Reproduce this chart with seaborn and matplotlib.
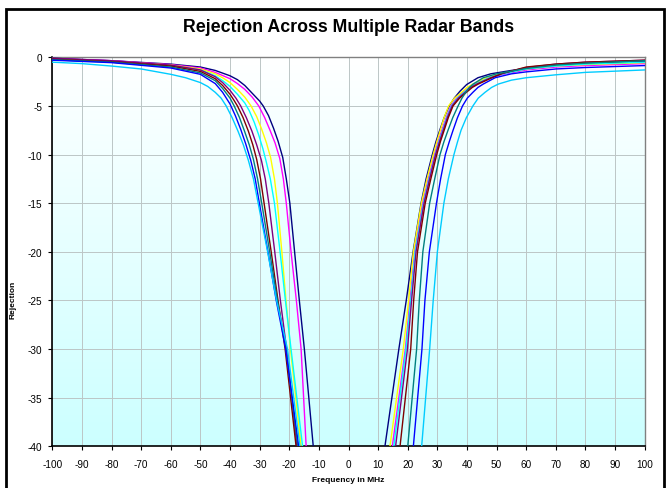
import numpy as np
import pandas as pd
import matplotlib
matplotlib.use("Agg")
import matplotlib.pyplot as plt
import seaborn as sns
from matplotlib.patches import Rectangle

# ---------------- data ----------------
band_names = ["Band 1", "Band 2", "Band 3", "Band 4", "Band 5",
              "Band 6", "Band 7", "Band 8", "Band 9"]
band_colors = ["#000080", "#FF00FF", "#FFFF00", "#00FFFF", "#800080",
               "#800000", "#008080", "#0000FF", "#00CCFF"]

b1_freq = [-100, -80, -60, -50, -45, -40, -37.5, -35, -32.5, -30, -28.8, -27, -25.3, -23.8, -22.2, -21, -19.8, -18.2, -16.6, -14.9, -11.9,
           12.3, 17.0, 19.5, 21.8, 24.5, 26.2, 28.3, 29.5, 30.8, 32.3, 34.0, 35.7, 37.6, 39.9, 43.7, 48, 55, 60, 70, 80, 100]
b1_rej = [-0.1, -0.35, -0.7, -1.0, -1.35, -1.9, -2.3, -2.9, -3.7, -4.5, -5.0, -6.0, -7.3, -8.6, -10.3, -12.5, -15, -20, -25, -30, -40,
          -40, -30, -25, -20, -15, -12.5, -10, -8.7, -7.5, -6.2, -5.0, -4.2, -3.5, -2.8, -2.1, -1.7, -1.35, -1.15, -0.85, -0.65, -0.45]

b2_freq = [-100, -80, -60, -50, -45, -40, -37.5, -35, -32.5, -30.3, -28.3, -26.5, -24.8, -23.2, -22, -21.0, -19.4, -17.6, -16.0, -14.3,
           14.8, 19.2, 20.8, 22.3, 25.0, 26.9, 29.0, 30.2, 31.5, 33.0, 34.6, 36.5, 38.6, 40.6, 42.8, 47.5, 52, 60, 70, 80, 100]
b2_rej = [-0.15, -0.35, -0.75, -1.1, -1.55, -2.2, -2.7, -3.3, -4.1, -5, -6.2, -7.5, -8.8, -10.4, -12.5, -15, -20, -25, -30, -40,
          -40, -30, -25, -20, -15, -12.5, -10, -8.7, -7.5, -6.2, -5, -4.2, -3.6, -3.1, -2.75, -2.1, -1.75, -1.3, -1.0, -0.85, -0.65]

b3_freq = [-100, -80, -60, -50, -45, -42.5, -40, -37.5, -35, -32.9, -31, -29.3, -27.7, -26.3, -25.0, -24.0, -22.5, -21.1, -19.6, -16.0,
           14.0, 18.5, 20.3, 21.9, 24.6, 26.5, 28.6, 29.8, 31.0, 32.3, 33.8, 35.8, 38.2, 40.0, 42.0, 46.5, 51, 60, 70, 80, 100]
b3_rej = [-0.2, -0.4, -0.8, -1.2, -1.7, -2.1, -2.6, -3.3, -4.1, -5, -6.1, -7.4, -8.8, -10.3, -12.5, -15, -20, -25, -30, -40,
          -40, -30, -25, -20, -15, -12.5, -10, -8.7, -7.5, -6.2, -5, -4.2, -3.6, -3.1, -2.75, -2.1, -1.7, -1.2, -0.9, -0.75, -0.55]

b4_freq = [-100, -80, -60, -50, -45, -42.5, -40, -37.5, -35, -33.5, -31.8, -30.3, -28.9, -27.8, -26.4, -25.0, -23.1, -21.3, -19.4, -15.5,
           15.3, 19.4, 21.0, 22.5, 25.3, 27.2, 29.3, 30.5, 31.8, 33.2, 34.8, 36.8, 39.0, 41.0, 43.0, 47.5, 52, 60, 70, 80, 100]
b4_rej = [-0.25, -0.45, -0.85, -1.3, -1.9, -2.4, -3.0, -3.8, -4.7, -5.5, -6.7, -8.0, -9.4, -10.7, -12.5, -15, -20, -25, -30, -40,
          -40, -30, -25, -20, -15, -12.5, -10, -8.7, -7.5, -6.2, -5, -4.2, -3.6, -3.1, -2.75, -2.1, -1.7, -1.2, -0.9, -0.7, -0.5]

b5_freq = [-100, -80, -60, -50, -45, -42.5, -40, -38, -36.4, -34.5, -32.6, -31, -29.4, -28.1, -26.9, -24.9, -23.0, -20.9, -17.4,
           15.9, 19.9, 21.3, 22.8, 25.5, 27.4, 29.4, 30.7, 32.0, 33.4, 35.0, 37.1, 39.4, 41.3, 43.3, 48, 52, 60, 70, 80, 100]
b5_rej = [-0.1, -0.35, -0.8, -1.3, -2.0, -2.6, -3.4, -4.2, -5, -6.2, -7.6, -9.0, -10.6, -12.5, -15, -20, -25, -30, -40,
          -40, -30, -25, -20, -15, -12.5, -10, -8.7, -7.5, -6.2, -5, -4.2, -3.6, -3.1, -2.75, -2.1, -1.65, -1.05, -0.7, -0.5, -0.3]

b6_freq = [-100, -80, -60, -50, -45, -42.5, -40, -38.7, -37.5, -35.6, -33.8, -32.3, -31.0, -29.7, -28.5, -26.1, -23.8, -21.4, -17.7,
           17.4, 21.0, 22.0, 23.3, 25.9, 27.8, 29.8, 31.0, 32.3, 33.7, 35.3, 37.5, 39.8, 41.8, 43.8, 48.5, 52, 60, 70, 80, 100]
b6_rej = [-0.2, -0.45, -0.9, -1.45, -2.2, -2.9, -3.8, -4.4, -5, -6.2, -7.6, -9.0, -10.5, -12.5, -15, -20, -25, -30, -40,
          -40, -30, -25, -20, -15, -12.5, -10, -8.7, -7.5, -6.2, -5, -4.2, -3.6, -3.1, -2.75, -2.1, -1.65, -1.0, -0.7, -0.5, -0.3]

b7_freq = [-100, -80, -60, -50, -45, -42.5, -40, -38.6, -36.8, -35.1, -33.5, -32.1, -30.7, -29.3, -26.6, -24.0, -21.1, -17.1,
           20.0, 23.0, 23.9, 25.1, 27.4, 29.1, 30.9, 32.2, 33.6, 35.2, 37.0, 38.3, 39.6, 40.8, 42.1, 45.5, 50, 60, 70, 80, 100]
b7_rej = [-0.25, -0.5, -1.0, -1.6, -2.4, -3.2, -4.2, -5, -6.2, -7.6, -9.0, -10.5, -12.5, -15, -20, -25, -30, -40,
          -40, -30, -25, -20, -15, -12.5, -10, -8.7, -7.5, -6.2, -5, -4.2, -3.6, -3.1, -2.75, -2.1, -1.7, -1.15, -0.8, -0.6, -0.35]

b8_freq = [-100, -80, -60, -50, -45, -42.5, -40, -38.2, -36.4, -34.7, -33.0, -31.5, -30.1, -27.2, -24.4, -21.2, -16.8,
           21.9, 24.8, 25.8, 27.3, 29.7, 31.1, 32.7, 34.0, 35.3, 36.8, 38.5, 40.1, 42.0, 43.7, 45.5, 49.5, 55, 60, 70, 80, 100]
b8_rej = [-0.3, -0.55, -1.1, -1.75, -2.7, -3.6, -4.8, -6.0, -7.4, -8.9, -10.6, -12.5, -15, -20, -25, -30, -40,
          -40, -30, -25, -20, -15, -12.5, -10, -8.7, -7.5, -6.2, -5, -4.2, -3.6, -3.1, -2.75, -2.1, -1.7, -1.5, -1.2, -1.05, -0.85]

b9_freq = [-100, -90, -80, -70, -60, -55, -50, -47.5, -45, -43, -41.3, -39.3, -37.3, -35.5, -33.8, -32.1, -30.5, -27.3, -24.3, -20.6, -16.4,
           24.7, 27.4, 28.6, 30.0, 32.2, 33.7, 35.6, 36.8, 38.0, 39.8, 42.0, 43.8, 46.1, 48.3, 50.6, 55, 60, 70, 80, 100]
b9_rej = [-0.5, -0.65, -0.9, -1.2, -1.75, -2.1, -2.6, -3.0, -3.6, -4.2, -5, -6.2, -7.6, -9.0, -10.6, -12.5, -15, -20, -25, -30, -40,
          -40, -30, -25, -20, -15, -12.5, -10, -8.7, -7.5, -6.2, -5, -4.2, -3.6, -3.1, -2.75, -2.35, -2.1, -1.8, -1.55, -1.3]

x_ticks = list(range(-100, 101, 10))
y_ticks = list(range(-40, 1, 5))

title_text = "Rejection Across Multiple Radar Bands"
x_label = "Frequency in MHz"
y_label = "Rejection"

# ---------------- build long table ----------------
all_freq = [b1_freq, b2_freq, b3_freq, b4_freq, b5_freq, b6_freq, b7_freq, b8_freq, b9_freq]
all_rej = [b1_rej, b2_rej, b3_rej, b4_rej, b5_rej, b6_rej, b7_rej, b8_rej, b9_rej]
rows = []
for name, fr, rj in zip(band_names, all_freq, all_rej):
    for f, r in zip(fr, rj):
        rows.append({"band": name, "freq": f, "rej": r, "side": "L" if f < 0 else "R"})
df = pd.DataFrame(rows)

# ---------------- figure ----------------
W, H = 667, 489
plt.rcParams["font.family"] = ["Liberation Sans", "DejaVu Sans"]
plt.rcParams["axes.unicode_minus"] = False
fig = plt.figure(figsize=(W / 100, H / 100), dpi=100)

L, R, T, B = 52.3, 644.7, 58.3, 447.3
ax = fig.add_axes([L / W, 1 - B / H, (R - L) / W, (B - T) / H])

# gradient background
grad = np.linspace(0, 1, 256).reshape(-1, 1)
top_c = np.array([1.0, 1.0, 1.0])
bot_c = np.array([204, 255, 255]) / 255.0
img = top_c[None, None, :] * (1 - grad[:, :, None]) + bot_c[None, None, :] * grad[:, :, None]
ax.imshow(img, extent=[-100, 100, -40, 0], aspect="auto", origin="upper", zorder=0)

ax.set_xticks(x_ticks)
ax.set_yticks(y_ticks)
ax.grid(True, color="#bcc6c6", linewidth=0.7, zorder=1)
ax.set_axisbelow(True)

sns.lineplot(data=df, x="freq", y="rej", hue="band", units="side", estimator=None,
             sort=False, palette=band_colors, hue_order=band_names, legend=False,
             linewidth=1.0, ax=ax, zorder=3)

ax.set_xlim(-100, 100)
ax.set_ylim(-40, 0)
ax.set_xlabel("")
ax.set_ylabel("")

ax.tick_params(axis="x", direction="out", length=3, width=0.8, pad=6, labelsize=7.2, colors="black")
ax.tick_params(axis="y", direction="out", length=3, width=0.8, pad=4, labelsize=7.2, colors="black")
for s in ["left", "bottom"]:
    ax.spines[s].set_color("black")
    ax.spines[s].set_linewidth(1.2)
for s in ["top", "right"]:
    ax.spines[s].set_color("#808080")
    ax.spines[s].set_linewidth(1.0)

fig.text((L + R) / 2 / W, 1 - 27 / H, title_text, ha="center", va="center",
         fontsize=12.8, fontweight="bold")
fig.text((L + R) / 2 / W, 1 - 481 / H, x_label, ha="center", va="center",
         fontsize=6, fontweight="bold")
fig.text(13 / W, 1 - 300 / H, y_label, ha="center", va="center", rotation=90,
         fontsize=6, fontweight="bold")

# outer chart frame
fig.patches.append(Rectangle((5.5 / W, -0.05), (663.5 - 5.5) / W, 1.05 - 10 / H,
                             transform=fig.transFigure, fill=False, edgecolor="black",
                             linewidth=2.0, clip_on=False))

fig.savefig("out.png", dpi=100)
